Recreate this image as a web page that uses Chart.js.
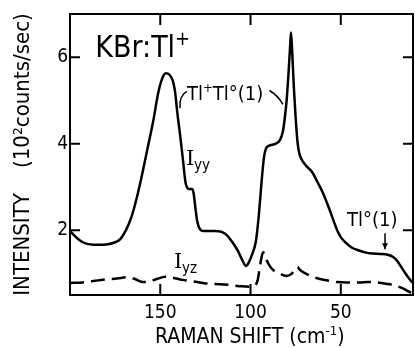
<!DOCTYPE html>
<html>
<head>
<meta charset="utf-8">
<script src="https://cdn.jsdelivr.net/npm/chart.js@4/dist/chart.umd.min.js"></script>
<style>
  html, body { margin: 0; padding: 0; background: #fff; }
</style>
</head>
<body>
<canvas id="chart" width="415" height="348"></canvas>
<script>

// Iyy spectrum (solid)
var shiftYY = [200, 197, 193, 187, 180, 175, 172, 169, 166, 163, 160, 157, 154, 151, 149, 147, 145, 143, 141.8, 140.5,
               139, 137.5, 136, 135, 134, 132.5, 131.5, 130.5, 129.5, 128, 126, 120, 116, 113, 110, 107, 104.5, 102.5, 101, 99,
               97, 95.5, 94.5, 93.5, 92.5, 91.5, 90, 86, 83.5, 82, 81, 80, 79, 78, 77.6, 77, 76, 75, 74, 73,
               71.5, 69, 66, 63, 60, 56, 52, 50, 47, 44, 40, 36, 32, 28, 24, 21, 19, 17, 15, 13, 11, 10];
var countsYY = [1.98, 1.85, 1.72, 1.66, 1.67, 1.72, 1.8, 2.0, 2.3, 2.75, 3.3, 3.9, 4.5, 5.2, 5.5, 5.63, 5.6, 5.45, 5.2, 4.7,
                4.2, 3.65, 3.1, 2.98, 2.95, 2.95, 2.85, 2.5, 2.2, 2.02, 1.98, 1.98, 1.96, 1.88, 1.72, 1.52, 1.3, 1.17, 1.25, 1.45,
                1.75, 2.3, 2.8, 3.3, 3.7, 3.88, 3.95, 4.0, 4.1, 4.3, 4.6, 5.0, 5.6, 6.3, 6.57, 6.2, 5.3, 4.6, 4.05, 3.78,
                3.62, 3.48, 3.35, 3.12, 2.87, 2.45, 2.0, 1.84, 1.7, 1.6, 1.53, 1.48, 1.46, 1.45, 1.43, 1.38, 1.3, 1.18, 1.05, 0.93, 0.82, 0.78];

// Iyz spectrum (dashed)
var shiftYZ = [200, 193, 186, 180, 174, 168, 164, 160, 156, 152, 147, 143, 138, 133, 128, 123, 117, 111, 105, 100,
               97.5, 96, 95, 94, 93, 92, 91, 89, 87, 85, 82, 80, 77, 75, 74, 73, 71, 68.7, 64, 58,
               52, 47, 40, 35, 30, 25, 20, 15, 12, 10];
var countsYZ = [0.78, 0.79, 0.83, 0.86, 0.88, 0.91, 0.87, 0.8, 0.81, 0.87, 0.92, 0.9, 0.85, 0.82, 0.79, 0.76, 0.75, 0.73, 0.7, 0.69,
                0.72, 0.85, 1.1, 1.35, 1.49, 1.42, 1.3, 1.15, 1.06, 1.02, 0.96, 0.94, 1.0, 1.12, 1.15, 1.1, 1.03, 0.98, 0.9, 0.84,
                0.8, 0.79, 0.79, 0.8, 0.79, 0.76, 0.72, 0.64, 0.57, 0.53];

var xTicks = [150, 100, 50];
var yTicks = [2, 4, 6];

var FONT = "'DejaVu Sans Condensed', 'Liberation Sans Narrow', 'DejaVu Sans', sans-serif";
var SERIF = "'DejaVu Serif', 'Liberation Serif', serif";

function pts(xs, ys) {
    return xs.map(function (x, i) { return { x: x, y: ys[i] }; });
}

// draw a run of text pieces: [text, size, raise]
function drawRun(ctx, x, y, parts) {
    parts.forEach(function (pt) {
        ctx.font = pt[1] + 'px ' + FONT;
        ctx.fillText(pt[0], x, y - pt[2]);
        x += ctx.measureText(pt[0]).width;
    });
}

var framePlugin = {
    id: 'frame',
    afterDatasetsDraw: function (chart) {
        var ctx = chart.ctx, a = chart.chartArea;
        var xs = chart.scales.x, ys = chart.scales.y;
        function P(x, y) { return [xs.getPixelForValue(x), ys.getPixelForValue(y)]; }

        ctx.save();
        ctx.strokeStyle = '#000';
        ctx.lineWidth = 2;
        ctx.strokeRect(a.left, a.top, a.right - a.left, a.bottom - a.top);

        // inward tick marks on all four sides
        ctx.beginPath();
        xTicks.forEach(function (v) {
            var p = xs.getPixelForValue(v);
            ctx.moveTo(p, a.bottom); ctx.lineTo(p, a.bottom - 11);
            ctx.moveTo(p, a.top); ctx.lineTo(p, a.top + 11);
        });
        yTicks.forEach(function (v) {
            var p = ys.getPixelForValue(v);
            ctx.moveTo(a.left, p); ctx.lineTo(a.left + 10, p);
            ctx.moveTo(a.right, p); ctx.lineTo(a.right - 10, p);
        });
        ctx.stroke();

        // x axis title
        ctx.fillStyle = '#000';
        ctx.textBaseline = 'alphabetic';
        drawRun(ctx, 155, 343, [['RAMAN SHIFT (cm', 21, 0], ['-1', 13, 8], [')', 21, 0]]);

        // labels inside the plot
        var p;
        p = P(186, 6.0);
        drawRun(ctx, p[0], p[1], [['KBr:Tl', 30, 0], ['+', 20, 12]]);

        p = P(135.2, 5.0);
        drawRun(ctx, p[0], p[1], [['Tl', 20, 0], ['+', 13, 8], ['Tl°(1)', 20, 0]]);

        p = P(46.5, 2.09);
        drawRun(ctx, p[0], p[1], [['Tl°(1)', 20, 0]]);

        ctx.font = '21px ' + SERIF;
        p = P(135.7, 3.5);
        ctx.fillText('I', p[0], p[1]);
        drawRun(ctx, p[0] + 8, p[1] + 5, [['yy', 15, 0]]);

        ctx.font = '21px ' + SERIF;
        p = P(142.4, 1.12);
        ctx.fillText('I', p[0], p[1]);
        drawRun(ctx, p[0] + 8, p[1] + 5, [['yz', 15, 0]]);

        // connector lines
        ctx.lineWidth = 1.5;
        var s, c, e;
        s = P(135.2, 5.21); c = P(139.6, 5.12); e = P(139.1, 4.82);
        ctx.beginPath();
        ctx.moveTo(s[0], s[1]);
        ctx.quadraticCurveTo(c[0], c[1], e[0], e[1]);
        ctx.stroke();

        s = P(89.5, 5.23); c = P(85, 5.12); e = P(82, 4.91);
        ctx.beginPath();
        ctx.moveTo(s[0], s[1]);
        ctx.quadraticCurveTo(c[0], c[1], e[0], e[1]);
        ctx.stroke();

        s = P(25.5, 1.93); e = P(25.5, 1.56);
        ctx.beginPath();
        ctx.moveTo(s[0], s[1]);
        ctx.lineTo(e[0], e[1]);
        ctx.stroke();
        ctx.beginPath();
        ctx.moveTo(e[0] - 3, e[1] - 6);
        ctx.lineTo(e[0], e[1]);
        ctx.lineTo(e[0] + 3, e[1] - 6);
        ctx.closePath();
        ctx.fill();

        ctx.restore();
    }
};

new Chart(document.getElementById('chart'), {
    type: 'line',
    data: {
        datasets: [
            {
                label: 'Iyy',
                data: pts(shiftYY, countsYY),
                borderColor: '#000',
                borderWidth: 2.5,
                pointRadius: 0,
                cubicInterpolationMode: 'monotone',
                fill: false
            },
            {
                label: 'Iyz',
                data: pts(shiftYZ, countsYZ),
                borderColor: '#000',
                borderWidth: 2.5,
                borderDash: [14, 7],
                pointRadius: 0,
                cubicInterpolationMode: 'monotone',
                fill: false
            }
        ]
    },
    options: {
        responsive: false,
        animation: false,
        layout: { padding: { top: 14, right: 2, left: 0, bottom: 0 } },
        plugins: {
            legend: { display: false },
            tooltip: { enabled: false }
        },
        scales: {
            x: {
                type: 'linear',
                reverse: true,
                min: 10,
                max: 200,
                grid: { display: false, drawTicks: false },
                border: { display: false },
                afterBuildTicks: function (s) {
                    s.ticks = xTicks.map(function (v) { return { value: v }; });
                },
                afterFit: function (s) { s.height = 53; },
                ticks: {
                    font: { family: FONT, size: 19 },
                    color: '#000',
                    padding: 7,
                    maxRotation: 0,
                    autoSkip: false
                }
            },
            y: {
                type: 'linear',
                min: 0.5,
                max: 7,
                grid: { display: false, drawTicks: false },
                border: { display: false },
                afterBuildTicks: function (s) {
                    s.ticks = yTicks.map(function (v) { return { value: v }; });
                },
                afterFit: function (s) { s.width = 70; },
                ticks: {
                    font: { family: FONT, size: 19 },
                    color: '#000',
                    padding: 2,
                    autoSkip: false
                },
                title: {
                    display: true,
                    text: 'INTENSITY    (10²counts/sec)',
                    font: { family: FONT, size: 22 },
                    color: '#000',
                    padding: { top: 10, bottom: 0 }
                }
            }
        }
    },
    plugins: [framePlugin]
});
</script>
</body>
</html>
